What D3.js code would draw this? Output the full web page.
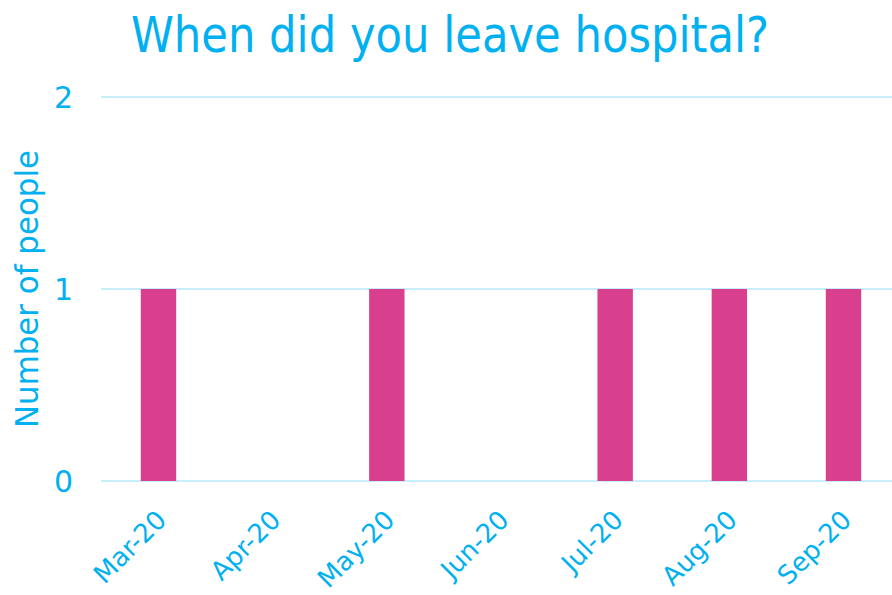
<!DOCTYPE html>
<head>
<meta charset="utf-8">
<style>
body { margin: 0; background: #fff; }
text { font-family: "DejaVu Sans", Verdana, sans-serif; fill: #00b0f0; }
.grid line { stroke: #c8eefc; stroke-width: 2px; }
.bar { fill: #d83f8c; }
</style>
<title>When did you leave hospital?</title>
</head>
<body>
<script src="https://cdn.jsdelivr.net/npm/d3@7"></script>
<script>

var width = 892,
    height = 595;

var months = ["Mar-20", "Apr-20", "May-20", "Jun-20", "Jul-20", "Aug-20", "Sep-20"];
var people = [1, 0, 1, 0, 1, 1, 1];
var yTicks = [0, 1, 2];

var svg = d3.select("body").append("svg")
    .attr("width", width)
    .attr("height", height);

var x = d3.scaleBand()
    .domain(months)
    .range([101.4, 900.6])
    .paddingInner(0.69)
    .paddingOuter(0.345);

var y = d3.scaleLinear()
    .domain([0, 2])
    .range([481, 97]);

// title (font in the original is narrower, so squeeze it)
svg.append("text")
    .attr("x", 131)
    .attr("y", 52)
    .attr("textLength", 638)
    .attr("lengthAdjust", "spacingAndGlyphs")
    .style("font-size", "50px")
    .text("When did you leave hospital?");

// gridlines
svg.append("g").attr("class", "grid")
  .selectAll("line")
    .data(yTicks)
  .enter().append("line")
    .attr("x1", 101)
    .attr("x2", width)
    .attr("y1", function(d) { return y(d); })
    .attr("y2", function(d) { return y(d); });

// y tick labels
svg.append("g")
  .selectAll("text")
    .data(yTicks)
  .enter().append("text")
    .attr("x", 73)
    .attr("y", function(d) { return y(d); })
    .attr("dy", "0.36em")
    .attr("text-anchor", "end")
    .style("font-size", "30px")
    .text(function(d) { return d; });

// y axis title
svg.append("text")
    .attr("transform", "translate(38,428)rotate(-90)")
    .attr("textLength", 278)
    .attr("lengthAdjust", "spacingAndGlyphs")
    .style("font-size", "32px")
    .text("Number of people");

// bars
svg.append("g")
  .selectAll("rect")
    .data(months)
  .enter().append("rect")
    .attr("class", "bar")
    .attr("x", function(d) { return x(d); })
    .attr("width", x.bandwidth())
    .attr("y", function(d, i) { return y(people[i]); })
    .attr("height", function(d, i) { return y(0) - y(people[i]); });

// x labels
svg.append("g")
  .selectAll("text")
    .data(months)
  .enter().append("text")
    .attr("transform", function(d) {
      return "translate(" + (x(d) + x.bandwidth() / 2 + 3) + ",515)rotate(-45)";
    })
    .attr("text-anchor", "end")
    .attr("dy", "0.35em")
    .style("font-size", "26px")
    .text(function(d) { return d; });

</script>
</body>
